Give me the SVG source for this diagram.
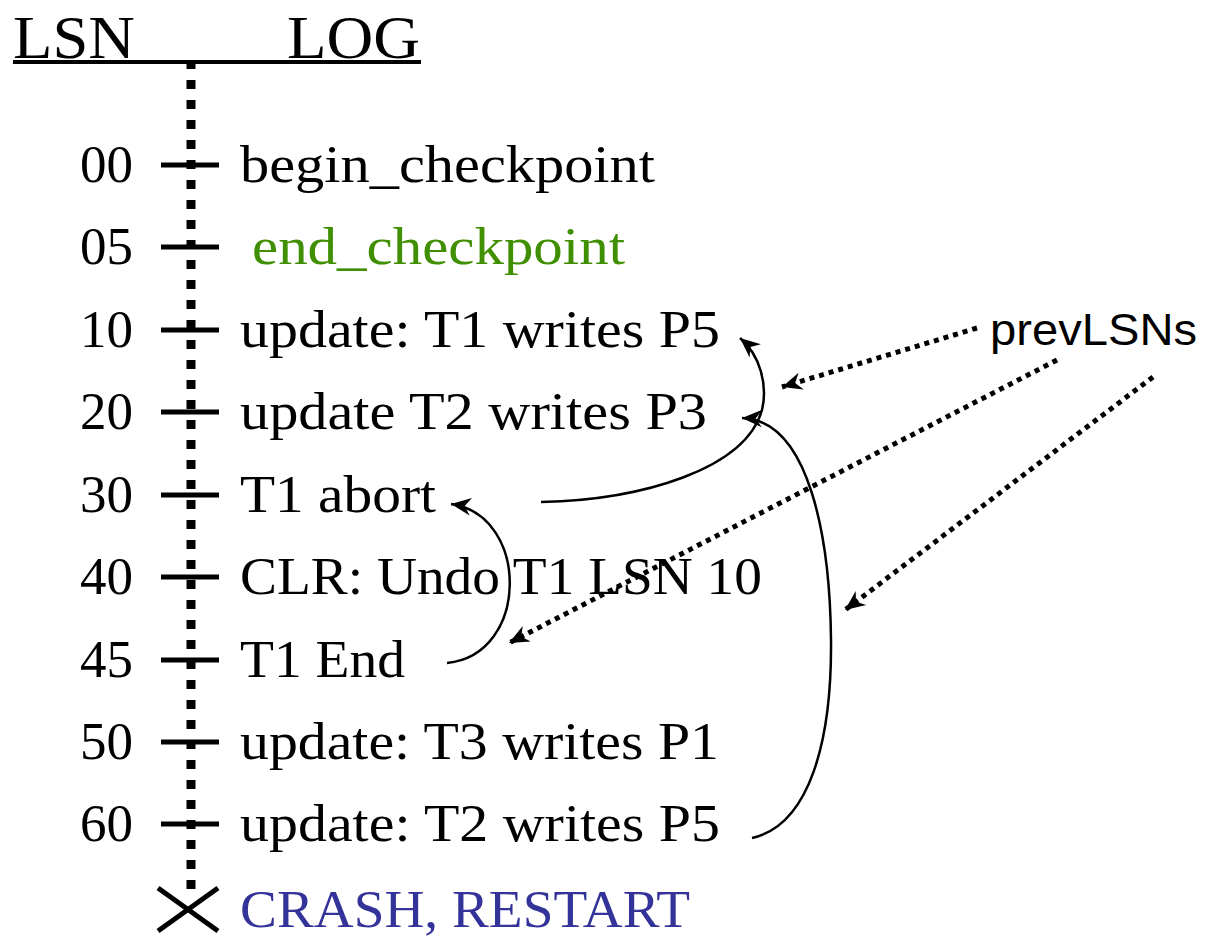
<svg xmlns="http://www.w3.org/2000/svg" width="1215" height="937" viewBox="0 0 1215 937">
<style>
.serif{font-family:"Liberation Serif","Times New Roman",serif;font-size:53px;fill:#000}
.num{text-anchor:end}
.hdr{font-family:"Liberation Serif","Times New Roman",serif;font-size:62px;fill:#000}
.tick{stroke:#000;stroke-width:5}
.axis{stroke:#000;stroke-width:9;stroke-dasharray:9 11;fill:none}
.curve{stroke:#000;stroke-width:2.5;fill:none}
.dot{stroke:#000;stroke-width:5;stroke-dasharray:5 5;fill:none}
.sans{font-family:"Liberation Sans",Arial,sans-serif;font-size:44px;fill:#000}
</style>
<defs>
<marker id="head" markerUnits="userSpaceOnUse" markerWidth="30" markerHeight="30" viewBox="-20 -10 24 20" refX="0" refY="0" orient="auto">
<path d="M0,0 L-16,-7 L-11,0 L-16,7 Z" fill="#000" stroke="none"/>
</marker>
</defs>
<g id="header">
<text class="hdr" x="13" y="58" textLength="122" lengthAdjust="spacingAndGlyphs">LSN</text>
<text class="hdr" x="287" y="58" textLength="133" lengthAdjust="spacingAndGlyphs">LOG</text>
<line x1="13" y1="62" x2="421" y2="62" stroke="#000" stroke-width="4"/>
</g>
<g id="axis">
<line class="axis" x1="191" y1="60" x2="191" y2="893"/>
</g>
<g id="row00">
<text class="serif num" x="133" y="182">00</text>
<line class="tick" x1="161" y1="165" x2="219" y2="165"/>
<text class="serif" x="240" y="182" textLength="415" lengthAdjust="spacingAndGlyphs">begin_checkpoint</text>
</g>
<g id="row05">
<text class="serif num" x="133" y="264">05</text>
<line class="tick" x1="161" y1="247" x2="219" y2="247"/>
<text class="serif" x="252" y="264" textLength="373" lengthAdjust="spacingAndGlyphs" style="fill:#3f8f00">end_checkpoint</text>
</g>
<g id="row10">
<text class="serif num" x="133" y="347">10</text>
<line class="tick" x1="161" y1="330" x2="219" y2="330"/>
<text class="serif" x="240" y="347" textLength="480" lengthAdjust="spacingAndGlyphs">update: T1 writes P5</text>
</g>
<g id="row20">
<text class="serif num" x="133" y="429">20</text>
<line class="tick" x1="161" y1="412" x2="219" y2="412"/>
<text class="serif" x="240" y="429" textLength="467" lengthAdjust="spacingAndGlyphs">update T2 writes P3</text>
</g>
<g id="row30">
<text class="serif num" x="133" y="512">30</text>
<line class="tick" x1="161" y1="495" x2="219" y2="495"/>
<text class="serif" x="240" y="512" textLength="196" lengthAdjust="spacingAndGlyphs">T1 abort</text>
</g>
<g id="row40">
<text class="serif num" x="133" y="594">40</text>
<line class="tick" x1="161" y1="577" x2="219" y2="577"/>
<text class="serif" x="240" y="594" textLength="522" lengthAdjust="spacingAndGlyphs">CLR: Undo T1 LSN 10</text>
</g>
<g id="row45">
<text class="serif num" x="133" y="677">45</text>
<line class="tick" x1="161" y1="660" x2="219" y2="660"/>
<text class="serif" x="240" y="677" textLength="165" lengthAdjust="spacingAndGlyphs">T1 End</text>
</g>
<g id="row50">
<text class="serif num" x="133" y="759">50</text>
<line class="tick" x1="161" y1="742" x2="219" y2="742"/>
<text class="serif" x="240" y="759" textLength="479" lengthAdjust="spacingAndGlyphs">update: T3 writes P1</text>
</g>
<g id="row60">
<text class="serif num" x="133" y="841">60</text>
<line class="tick" x1="161" y1="824" x2="219" y2="824"/>
<text class="serif" x="240" y="841" textLength="480" lengthAdjust="spacingAndGlyphs">update: T2 writes P5</text>
</g>
<g id="crash">
<line x1="158" y1="888" x2="218" y2="931" stroke="#000" stroke-width="5"/>
<line x1="158" y1="931" x2="218" y2="888" stroke="#000" stroke-width="5"/>
<text class="serif" x="240" y="927" textLength="450" lengthAdjust="spacingAndGlyphs" style="fill:#333399">CRASH, RESTART</text>
</g>
<g id="prevLSNs">
<text class="sans" x="990" y="345" textLength="207" lengthAdjust="spacingAndGlyphs">prevLSNs</text>
</g>
<g id="connectors">
<path class="curve" d="M541,502 C640,500 745,470 762,410 C768,385 760,355 740,338" marker-end="url(#head)"/>
<path class="curve" d="M752,838 C810,825 832,740 831,640 C830,540 810,420 742,418" marker-end="url(#head)"/>
<path class="curve" d="M447,663 C530,655 530,515 451,504" marker-end="url(#head)"/>
<path class="dot" d="M977,328 L782,387" marker-end="url(#head)"/>
<path class="dot" d="M1057,360 L509,643" marker-end="url(#head)"/>
<path class="dot" d="M1153,377 L845,610" marker-end="url(#head)"/>
</g>
</svg>
